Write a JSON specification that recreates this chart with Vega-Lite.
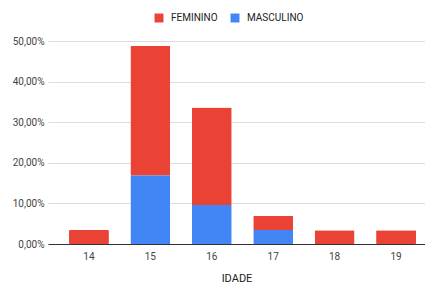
{
  "$schema": "https://vega.github.io/schema/vega-lite/v6.json",
  "width": 377,
  "height": 203,
  "autosize": {"type": "none"},
  "padding": {"left": 48, "top": 41, "right": 0, "bottom": 40},
  "background": "white",
  "config": {
    "view": {"stroke": null},
    "font": "Roboto",
    "locale": {"number": {"decimal": ",", "thousands": ".", "grouping": [3], "currency": ["R$", ""]}}
  },
  "data": {
    "values": [
      {"IDADE": "14", "Sexo": "FEMININO", "valor": 0.0345},
      {"IDADE": "15", "Sexo": "FEMININO", "valor": 0.3190},
      {"IDADE": "15", "Sexo": "MASCULINO", "valor": 0.1690},
      {"IDADE": "16", "Sexo": "FEMININO", "valor": 0.2400},
      {"IDADE": "16", "Sexo": "MASCULINO", "valor": 0.0960},
      {"IDADE": "17", "Sexo": "FEMININO", "valor": 0.0345},
      {"IDADE": "17", "Sexo": "MASCULINO", "valor": 0.0345},
      {"IDADE": "18", "Sexo": "FEMININO", "valor": 0.0340},
      {"IDADE": "19", "Sexo": "FEMININO", "valor": 0.0340}
    ]
  },
  "mark": {"type": "bar", "cornerRadius": 1},
  "encoding": {
    "x": {
      "field": "IDADE",
      "type": "ordinal",
      "scale": {"paddingInner": 0.35, "paddingOuter": 0.244, "align": 0.7},
      "axis": {
        "title": "IDADE",
        "titleFont": "Roboto",
        "titleFontWeight": "normal",
        "titleFontSize": 11,
        "titleColor": "#222222",
        "titlePadding": 11,
        "labelAngle": 0,
        "labelFontSize": 10,
        "labelColor": "#444444",
        "labelPadding": 7,
        "ticks": false,
        "domainColor": "#333333",
        "domainWidth": 1
      }
    },
    "y": {
      "field": "valor",
      "type": "quantitative",
      "stack": "zero",
      "scale": {"domain": [0, 0.5]},
      "axis": {
        "title": null,
        "values": [0, 0.1, 0.2, 0.3, 0.4, 0.5],
        "format": ".2%",
        "labelFontSize": 10,
        "labelColor": "#444444",
        "labelPadding": 4,
        "ticks": false,
        "domain": false,
        "gridColor": "#dddddd",
        "gridWidth": 1
      }
    },
    "color": {
      "field": "Sexo",
      "type": "nominal",
      "scale": {"domain": ["FEMININO", "MASCULINO"], "range": ["#EA4335", "#4285F4"]},
      "legend": {
        "title": null,
        "orient": "none",
        "direction": "horizontal",
        "legendX": 106,
        "legendY": -28,
        "symbolType": "square",
        "symbolSize": 80,
        "symbolStrokeWidth": 0,
        "labelFontSize": 10,
        "labelColor": "#222222",
        "columnPadding": 12,
        "labelOffset": 7
      }
    },
    "order": {"field": "Sexo", "sort": "descending"}
  }
}
